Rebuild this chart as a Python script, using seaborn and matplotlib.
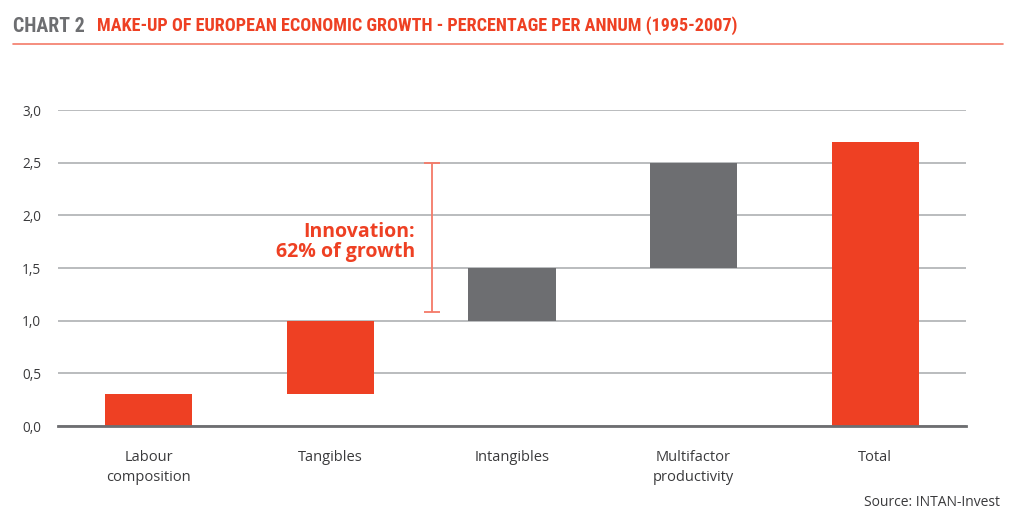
import matplotlib
matplotlib.use("Agg")
import numpy as np
import pandas as pd
import seaborn as sns
import matplotlib.pyplot as plt

RED = "#EE4023"
GREY = "#6D6E71"
LINE_RED = "#F47A68"
GRID = "#A7A9AC"
TXT = "#3A3A3C"

categories = ["Labour\ncomposition", "Tangibles", "Intangibles", "Multifactor\nproductivity", "Total"]
bar_bottom = [0.0, 0.3, 1.0, 1.5, 0.0]
bar_top = [0.3, 1.0, 1.5, 2.5, 2.7]
bar_colors = [RED, RED, GREY, GREY, RED]
y_ticks = [0.0, 0.5, 1.0, 1.5, 2.0, 2.5, 3.0]
innovation_low, innovation_high = 1.08, 2.5

sns.set_theme(style="white")
plt.rcParams["font.family"] = ["Open Sans", "DejaVu Sans"]

df = pd.DataFrame({
    "category": categories,
    "height": np.array(bar_top) - np.array(bar_bottom),
})

fig = plt.figure(figsize=(10.24, 5.25), dpi=100)
ax = fig.add_axes([58 / 1024, 99 / 525, 908 / 1024, 316 / 525])

sns.barplot(
    data=df, x="category", y="height", order=categories, color=RED,
    bottom=bar_bottom, width=0.48, saturation=1, linewidth=0, ax=ax, zorder=3,
)
for patch, c in zip(ax.patches, bar_colors):
    patch.set_facecolor(c)

ax.set_xlim(-0.5, 4.5)
ax.set_ylim(0, 3.0)
ax.set_yticks(y_ticks)
ax.set_yticklabels([f"{v:.1f}".replace(".", ",") for v in y_ticks])
ax.grid(True, axis="y", color=GRID, linewidth=1.1, zorder=0)
ax.set_axisbelow(True)
for s in ("left", "right", "top"):
    ax.spines[s].set_visible(False)
ax.spines["bottom"].set_color("#6D6E71")
ax.spines["bottom"].set_linewidth(2)
ax.spines["bottom"].set_zorder(4)
ax.tick_params(axis="y", length=0, pad=12, labelsize=9.8, labelcolor=TXT)
ax.tick_params(axis="x", length=0, pad=17, labelsize=10.5, labelcolor=TXT)
for lab in ax.get_xticklabels():
    lab.set_linespacing(1.5)
ax.set_xlabel("")
ax.set_ylabel("")

# innovation bracket
mid = (innovation_low + innovation_high) / 2
ax.errorbar(1.56, mid, yerr=(innovation_high - innovation_low) / 2,
            fmt="none", ecolor=LINE_RED, elinewidth=1.3, capsize=5.5, capthick=1.3, zorder=5)
ax.text(1.466, 1.75, "Innovation:\n62% of growth", ha="right", va="center",
        color=RED, fontsize=14, fontweight="bold", linespacing=1.0, zorder=6)

# title, condensed look: fit each part to the width it takes in the reference
title_font = ["Roboto Condensed", "Liberation Sans Narrow", "Open Sans Condensed", "DejaVu Sans"]
ty = 1 - 26 / 525
t1 = fig.text(13 / 1024, ty, "CHART 2", color=GREY, fontsize=16,
              fontweight="bold", family=title_font, fontstretch="condensed", va="center")
t2 = fig.text(97 / 1024, ty,
              "MAKE-UP OF EUROPEAN ECONOMIC GROWTH - PERCENTAGE PER ANNUM (1995-2007)",
              color=RED, fontsize=16, fontweight="bold", family=title_font,
              fontstretch="condensed", va="center")
fig.canvas.draw()
for t, target in ((t1, 72), (t2, 643)):
    w = t.get_window_extent().width
    t.set_fontsize(16 * target / w)
fig.add_artist(plt.Line2D([13 / 1024, 1003 / 1024], [1 - 44 / 525, 1 - 44 / 525],
                          color=LINE_RED, linewidth=1.2))

fig.text(1000 / 1024, 1 - 502 / 525, "Source: INTAN-Invest", ha="right", va="center",
         color=TXT, fontsize=10)

fig.savefig("out.png", dpi=100, facecolor="white")
